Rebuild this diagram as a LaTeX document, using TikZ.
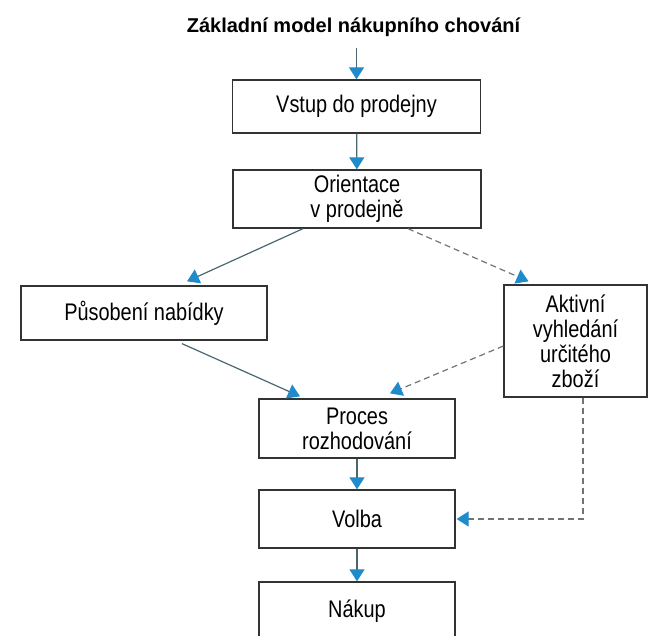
\documentclass[tikz,border=0pt]{standalone}
\usepackage{fontspec}
\setmainfont{Liberation Sans}
\newfontfamily\boxfont[FakeStretch=0.83]{Liberation Sans}
\usetikzlibrary{arrows.meta}
\definecolor{tipblue}{HTML}{1F8BCB}
\definecolor{linegray}{HTML}{4A6670}
\definecolor{dashgray}{HTML}{6E7478}
\definecolor{boxgray}{HTML}{333333}
\tikzset{
  stage/.style={draw=boxgray, line width=1.3pt, inner sep=0pt, align=center,
    font=\boxfont\fontsize{24}{25}\selectfont},
  flow/.style={draw=linegray, line width=1.2pt,
    -{Triangle[length=12pt,width=15pt,color=tipblue]}},
  maybe/.style={flow, draw=dashgray, dash pattern=on 6pt off 4pt}
}

\begin{document}
\begin{tikzpicture}[x=1pt, y=-1pt]
\useasboundingbox (0,0) rectangle (650,636);
\clip (0,0) rectangle (650,636);
\node[font=\bfseries\fontsize{20}{24}\selectfont, anchor=base] (title) at (353.5,33)
  {Základní model nákupního chování};
\coordinate (entry) at (356.5,48);
% main line
\node[stage, minimum width=248pt, minimum height=53pt] (vstup) at (356.5,106.5) {Vstup do prodejny};
\node[stage, minimum width=248pt, minimum height=58pt] (orient) at (357,199) {Orientace\\v prodejně};
\node[stage, minimum width=246pt, minimum height=54pt] (pusob) at (144,313) {Působení nabídky};
\node[stage, minimum width=143pt, minimum height=112pt] (aktiv) at (575.5,341) {Aktivní\\vyhledání\\určitého\\zboží};
\node[stage, minimum width=196pt, minimum height=59pt] (proces) at (357,428.5) {Proces\\rozhodování};
\node[stage, minimum width=196pt, minimum height=58pt] (volba) at (357,519) {Volba};
\node[stage, minimum width=196pt, minimum height=58pt] (nakup) at (357,611) {Nákup};
% connectors
\draw[flow] (entry) -- (vstup);
\draw[flow] (vstup) -- (orient);
\draw[flow] ([xshift=-54pt]orient.south) -- ([shift={(43pt,4pt)}]pusob.north);
\draw[maybe] ([xshift=51pt]orient.south) -- ([shift={(-47pt,3pt)}]aktiv.north);
\draw[flow] ([shift={(38pt,-3pt)}]pusob.south) -- ([shift={(-57pt,2pt)}]proces.north);
\draw[maybe] ([yshift=-5pt]aktiv.west) -- ([shift={(33pt,5pt)}]proces.north);
\draw[maybe] ([xshift=7.5pt]aktiv.south) |- ([xshift=1pt]volba.east);
\draw[flow] (proces) -- (volba);
\draw[flow] (volba) -- (nakup);
\end{tikzpicture}
\end{document}
